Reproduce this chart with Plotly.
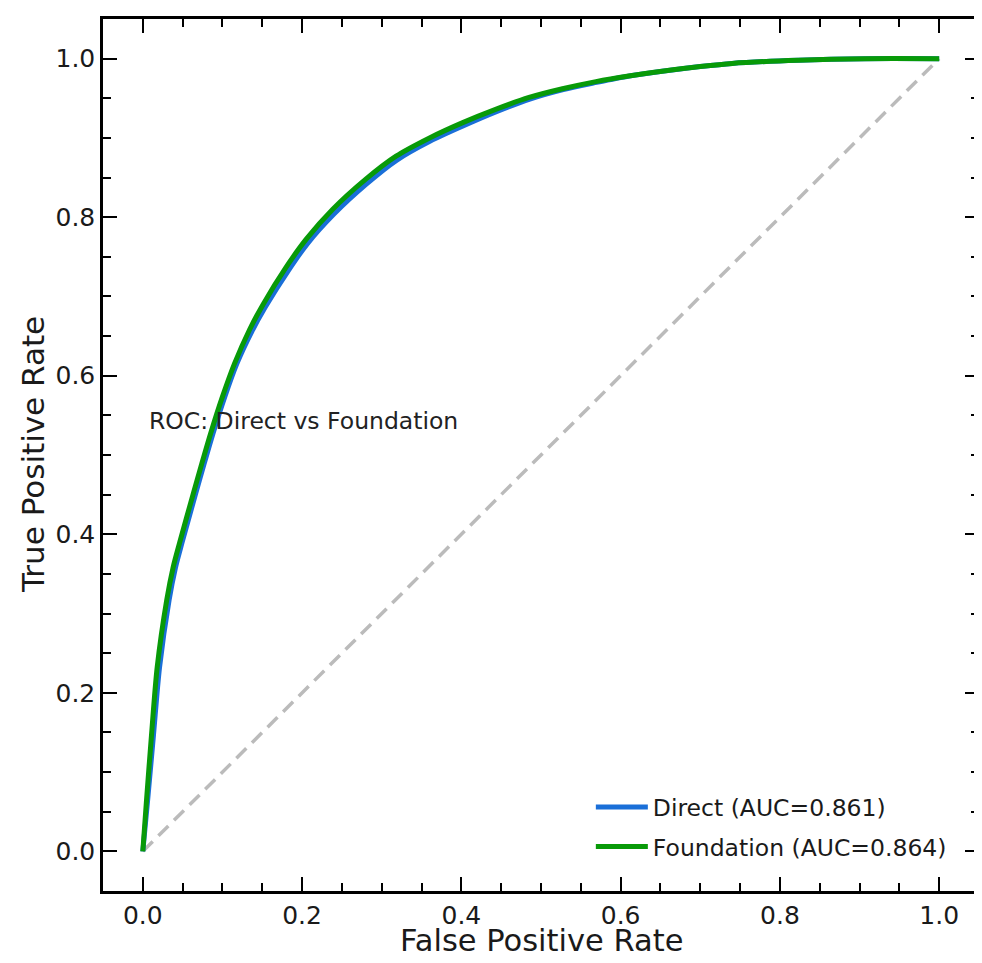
import plotly.graph_objects as go

# ROC data
fpr_foundation = [0, 0.0046, 0.011, 0.018, 0.030, 0.038, 0.0464, 0.063, 0.0743, 0.086, 0.0998,
                  0.115, 0.134, 0.151, 0.180, 0.205, 0.2385, 0.280, 0.318, 0.360, 0.401, 0.443,
                  0.485, 0.527, 0.569, 0.610, 0.652, 0.700, 0.740, 0.823, 0.907, 1.0]
tpr_foundation = [0, 0.064, 0.148, 0.232, 0.317, 0.358, 0.390, 0.450, 0.490, 0.530, 0.573,
                  0.615, 0.658, 0.690, 0.737, 0.772, 0.810, 0.848, 0.877, 0.900, 0.919, 0.936,
                  0.951, 0.962, 0.971, 0.978, 0.984, 0.990, 0.994, 0.998, 1.0, 1.0]

fpr_direct = [0, 0.006, 0.0135, 0.021, 0.033, 0.041, 0.0494, 0.066, 0.0773, 0.089, 0.1028,
              0.118, 0.137, 0.154, 0.183, 0.207, 0.240, 0.281, 0.319, 0.361, 0.402, 0.444,
              0.486, 0.528, 0.570, 0.611, 0.652, 0.700, 0.740, 0.823, 0.907, 1.0]
tpr_direct = [0, 0.064, 0.148, 0.232, 0.317, 0.358, 0.390, 0.450, 0.490, 0.530, 0.573,
              0.615, 0.656, 0.687, 0.733, 0.767, 0.804, 0.842, 0.872, 0.896, 0.915, 0.933,
              0.949, 0.961, 0.970, 0.978, 0.984, 0.990, 0.994, 0.998, 1.0, 1.0]

chance_x = [0, 1]
chance_y = [0, 1]

name_direct = "Direct (AUC=0.861)"
name_foundation = "Foundation (AUC=0.864)"
title_text = "ROC: Direct vs Foundation"
x_title = "False Positive Rate"
y_title = "True Positive Rate"
tick_vals = [0.0, 0.2, 0.4, 0.6, 0.8, 1.0]
tick_text = ["0.0", "0.2", "0.4", "0.6", "0.8", "1.0"]

FONT = "DejaVu Sans"
TXT = "#1a1a1a"

fig = go.Figure()
fig.add_trace(go.Scatter(x=chance_x, y=chance_y, mode="lines",
                         line=dict(color="#bbbbbb", width=3.5, dash="14px,8px"),
                         showlegend=False, hoverinfo="skip"))
fig.add_trace(go.Scatter(x=fpr_direct, y=tpr_direct, mode="lines", name=name_direct,
                         legendgroup="direct",
                         line=dict(color="#1a6fd8", width=5, shape="spline", smoothing=0.8)))
fig.add_trace(go.Scatter(x=fpr_foundation, y=tpr_foundation, mode="lines", name=name_foundation,
                         legendgroup="foundation",
                         line=dict(color="#089a08", width=5, shape="spline", smoothing=0.8)))

axis_common = dict(
    range=[-0.05, 1.05],
    showline=True, linecolor="black", linewidth=2.5, mirror="allticks",
    ticks="inside", ticklen=14, tickwidth=2, tickcolor="black",
    tickvals=tick_vals, ticktext=tick_text,
    tickfont=dict(family=FONT, size=25, color=TXT),
    showgrid=False, zeroline=False,
    minor=dict(dtick=0.05, tick0=0, ticks="inside", ticklen=8, tickwidth=1.6, tickcolor="black",
               showgrid=False),
)

fig.update_xaxes(**axis_common)
fig.update_yaxes(**axis_common)

# axis titles as paper-anchored texts
fig.add_annotation(x=0.5, y=-0.0573, xref="paper", yref="paper", text=x_title, showarrow=False,
                   xanchor="center", yanchor="middle",
                   font=dict(family=FONT, size=30.5, color=TXT))
fig.add_annotation(x=-0.0799, y=0.5, xref="paper", yref="paper", text=y_title, showarrow=False,
                   xanchor="center", yanchor="middle", textangle=-90,
                   font=dict(family=FONT, size=31, color=TXT))

fig.add_annotation(x=0.005, y=0.543, xref="x", yref="y", text=title_text, showarrow=False,
                   xanchor="left", yanchor="middle",
                   font=dict(family=FONT, size=23.5, color="#222222"))

# page body has an 8px margin, so the figure is offset by (8, 8)
fig.update_layout(
    width=974, height=947,
    margin=dict(l=95, r=3, t=11, b=64, autoexpand=False),
    paper_bgcolor="white", plot_bgcolor="white",
    font=dict(family=FONT, size=20, color=TXT),
    legend=dict(x=0.969, y=0.025, xanchor="right", yanchor="bottom",
                bgcolor="rgba(255,255,255,0)", borderwidth=0,
                font=dict(family=FONT, size=23.5, color=TXT),
                tracegroupgap=6, itemwidth=52),
)

fig.write_html("out.html")
